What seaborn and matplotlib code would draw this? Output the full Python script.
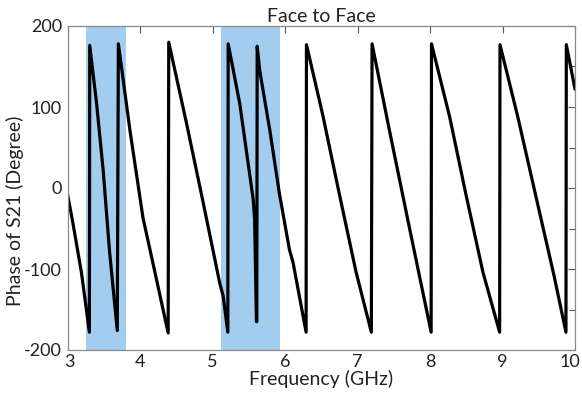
import matplotlib
matplotlib.use("Agg")
import matplotlib.pyplot as plt
import matplotlib.ticker as mticker
import matplotlib.transforms as mtransforms
import pandas as pd
import seaborn as sns

# ── Data ──────────────────────────────────────────────────────────────────────
freq = [3.00, 3.08, 3.19, 3.30,
        3.305, 3.40, 3.49, 3.58, 3.685,
        3.70, 3.86, 4.04, 4.18, 4.387,
        4.395, 4.64, 4.87, 5.10, 5.145, 5.21,
        5.215, 5.375, 5.56, 5.58, 5.605, 5.61,
        5.615, 5.65, 5.79, 5.92, 6.06, 6.11, 6.29,
        6.295, 6.52, 6.75, 6.98, 7.19,
        7.20, 7.44, 7.72, 8.015,
        8.02, 8.27, 8.50, 8.73, 8.96,
        8.965, 9.21, 9.48, 9.71, 9.875,
        9.88, 10.0]
phase = [-8, -47, -104, -178,
         176, 104, 22, -80, -176,
         178, 71, -37, -94, -179,
         180, 80, -18, -118, -133, -178,
         178, 104, -14, -39, -165, -165,
         175, 145, 71, -6, -76, -92, -178,
         177, 90, -8, -104, -178,
         178, 71, -51, -178,
         178, 88, -10, -104, -178,
         177, 88, -18, -108, -178,
         177, 122]

band_start = [3.26, 5.11]
band_end = [3.80, 5.935]

x_ticks = [3, 4, 5, 6, 7, 8, 9, 10]
y_ticks = [-200, -100, 0, 100, 200]

df = pd.DataFrame({"freq": freq, "phase": phase})

# ── Style ─────────────────────────────────────────────────────────────────────
sns.set_theme(style="white")
plt.rcParams["font.family"] = ["Lato", "DejaVu Sans"]
plt.rcParams["axes.unicode_minus"] = False

fig = plt.figure(figsize=(5.82, 4.0), dpi=100)
ax = fig.add_axes([0.1162, 0.125, 0.8718, 0.81])

for x0, x1 in zip(band_start, band_end):
    ax.axvspan(x0, x1, color="#a3cdee", lw=0, zorder=0)

sns.lineplot(data=df, x="freq", y="phase", sort=False, color="black",
             linewidth=2.3, ax=ax, zorder=2)

ax.set_xlim(3, 10)
ax.set_ylim(-200, 200)
ax.set_xticks(x_ticks)
ax.set_yticks(y_ticks)
ax.yaxis.set_minor_locator(mticker.MultipleLocator(50))

ax.tick_params(axis="both", which="both", direction="in", top=True,
               right=True, colors="#555555", labelcolor="#222222",
               labelsize=13)
ax.tick_params(axis="x", which="major", pad=3)
ax.tick_params(axis="y", which="major", pad=4)
ax.tick_params(axis="both", which="major", length=5, width=0.8)
ax.tick_params(axis="y", which="minor", length=4, width=0.8)
for s in ax.spines.values():
    s.set_color("#888888")
    s.set_linewidth(0.9)

# nudge the end labels inward like the reference
for tick, dx in [(ax.xaxis.get_major_ticks()[0], 2), (ax.xaxis.get_major_ticks()[-1], -5)]:
    lbl = tick.label1
    lbl.set_transform(lbl.get_transform() +
                      mtransforms.ScaledTranslation(dx / 100, 0, fig.dpi_scale_trans))

ax.set_title("Face to Face", fontsize=14, color="#222222", pad=3)
ax.set_xlabel("Frequency (GHz)", fontsize=14, color="#222222", labelpad=0)
ax.set_ylabel("Phase of S21 (Degree)", fontsize=14, color="#222222")
ax.yaxis.set_label_coords(-0.086, 0.43)

fig.savefig("out.png", dpi=100)
